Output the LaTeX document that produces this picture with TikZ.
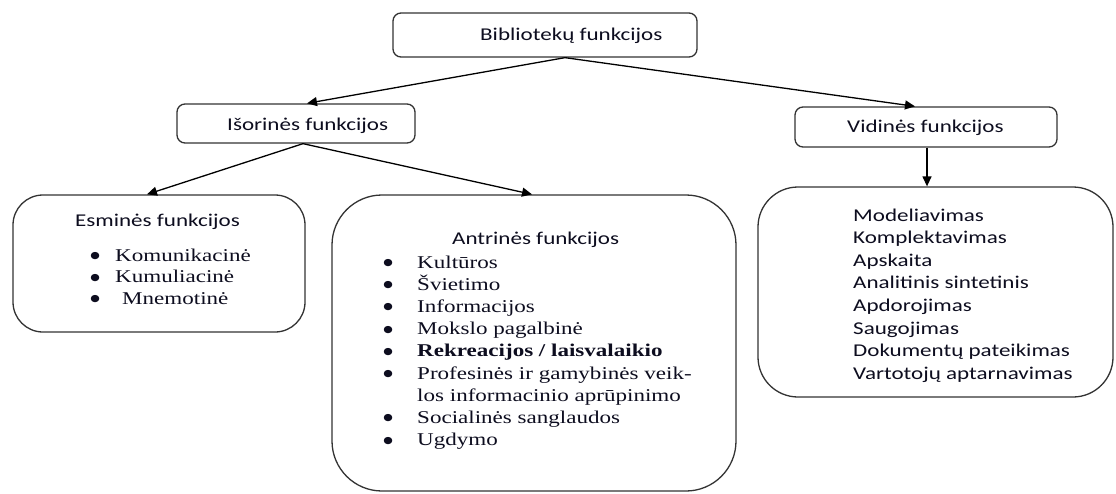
\documentclass[tikz,border=0pt]{standalone}
\usepackage{fontspec}
\setmainfont{Liberation Serif}[FakeStretch=1.28]
\newfontfamily\sanscal{Carlito}[FakeStretch=1.28]
\newfontfamily\bulfont{DejaVu Sans}[FakeStretch=1.15]
\usetikzlibrary{arrows.meta}
\definecolor{txt}{rgb}{0.05,0.05,0.12}
\definecolor{edge}{rgb}{0.2,0.2,0.2}
\newcommand{\bl}{\makebox[20pt]{\raisebox{2.5pt}{\bulfont\fontsize{9.5}{10}\selectfont ●}}}
\begin{document}
\begin{tikzpicture}[x=1pt,y=-1pt,
  box/.style={draw=edge,line width=1.3pt,inner sep=0pt,fill=white},
  lbl/.style={inner sep=0pt,anchor=base west,text=txt,font=\sanscal\fontsize{18}{22}\selectfont},
  lst/.style={inner sep=0pt,anchor=base west,text=txt,align=left},
  arr/.style={line width=1.3pt,-{Triangle[length=10pt,width=9pt]}}]
\useasboundingbox[fill=white] (0,0) rectangle (1116,493);
% boxes
\node[box,rounded corners=8pt,minimum width=304pt,minimum height=44pt] (top) at (545,35) {};
\node[box,rounded corners=8pt,minimum width=238pt,minimum height=39pt] (iso) at (296,123.5) {};
\node[box,rounded corners=8pt,minimum width=262pt,minimum height=40pt] (vid) at (926,127) {};
\node[box,rounded corners=30pt,minimum width=292pt,minimum height=137pt] (esm) at (159,263.5) {};
\node[box,rounded corners=50pt,minimum width=404pt,minimum height=296pt] (antr) at (534,343) {};
\node[box,rounded corners=40pt,minimum width=355pt,minimum height=210pt] (vlist) at (935.5,292) {};
% titles
\node[lbl] (ttop) at (480,40) {Bibliotekų funkcijos};
\node[lbl] (tiso) at (227,130) {Išorinės funkcijos};
\node[lbl] (tvid) at (847,132) {Vidinės funkcijos};
\node[lbl] (tesm) at (75,226) {Esminės funkcijos};
\node[lbl] (tantr) at (452,244) {Antrinės funkcijos};
% lists
\node[lst] (lesm) at (85,261) {\fontsize{18}{21.5}\selectfont
  \begin{tabular}[t]{@{}l@{\hspace{10pt}}l@{}}
  \bl & Komunikacinė\\
  \bl & Kumuliacinė\\
  \bl & \hspace{7pt}Mnemotinė
  \end{tabular}};
\node[lst] (lantr) at (378,268) {\fontsize{18}{22.2}\selectfont
  \begin{tabular}[t]{@{}l@{\hspace{19pt}}l@{}}
  \bl & Kultūros\\
  \bl & Švietimo\\
  \bl & Informacijos\\
  \bl & Mokslo pagalbinė\\
  \bl & \textbf{Rekreacijos / laisvalaikio}\\
  \bl & Profesinės ir gamybinės veik-\\
      & los informacinio aprūpinimo\\
  \bl & Socialinės sanglaudos\\
  \bl & Ugdymo
  \end{tabular}};
\node[lst,font=\sanscal] (lvid) at (853,221) {\fontsize{18}{22.6}\selectfont
  \begin{tabular}[t]{@{}l@{}}
  Modeliavimas\\
  Komplektavimas\\
  Apskaita\\
  Analitinis sintetinis\\
  Apdorojimas\\
  Saugojimas\\
  Dokumentų pateikimas\\
  Vartotojų aptarnavimas
  \end{tabular}};
% connectors
\draw[arr] ([xshift=20pt]top.south) -- ([xshift=11pt]iso.north);
\draw[arr] ([xshift=20pt]top.south) -- ([xshift=-11pt]vid.north);
\draw[arr] ([xshift=7pt]iso.south) -- ([xshift=-12pt]esm.north);
\draw[arr] ([xshift=7pt]iso.south) -- ([xshift=-2pt]antr.north);
\draw[arr] ([xshift=1pt]vid.south) -- ([xshift=1pt]vid.south |- vlist.north);
\end{tikzpicture}
\end{document}
